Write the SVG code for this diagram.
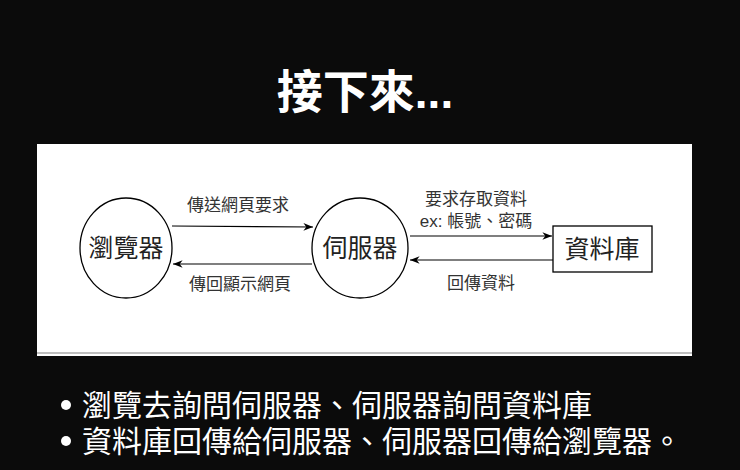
<svg xmlns="http://www.w3.org/2000/svg" width="740" height="470" viewBox="0 0 740 470">
<defs>
<marker id="ah" viewBox="0 0 10 10" refX="10" refY="5" markerWidth="8" markerHeight="8" orient="auto-start-reverse"><path d="M0,1 L10,5 L0,9 L3,5 Z" fill="#000"/></marker>
<style>
.cjk{font-family:"Liberation Sans","Noto Sans CJK TC",sans-serif}
.n{fill:#fff;stroke:#000;stroke-width:1.3}
.lbl{font-size:17px;fill:#333;text-anchor:middle}
.big{font-size:25px;fill:#222;text-anchor:middle}
.c line{stroke:#000;stroke-width:1.2;marker-end:url(#ah)}
.w{fill:#fff;font-size:30px}
</style>
</defs>
<rect width="740" height="470" fill="#0b0b0b"/>
<text class="cjk" x="365" y="108" fill="#fff" font-size="46" font-weight="bold" text-anchor="middle">接下來...</text>
<rect x="37" y="144" width="655" height="212" fill="#fff"/>
<line x1="37" y1="353" x2="692" y2="353" stroke="#aaa" stroke-width="1.5"/>
<g id="browser"><ellipse class="n" cx="126" cy="248" rx="46" ry="50"/><text class="cjk big" x="126" y="257">瀏覽器</text></g>
<g id="server"><ellipse class="n" cx="360" cy="248" rx="48" ry="50"/><text class="cjk big" x="360" y="257">伺服器</text></g>
<g id="database"><rect class="n" x="553" y="226" width="99" height="46"/><text class="cjk big" x="602" y="258">資料庫</text></g>
<g class="c cjk">
<line x1="172" y1="226" x2="313" y2="227"/>
<line x1="312" y1="264" x2="173" y2="264"/>
<line x1="410" y1="236" x2="552" y2="236"/>
<line x1="553" y1="260" x2="410" y2="260"/>
<text class="lbl" x="238" y="211">傳送網頁要求</text>
<text class="lbl" x="240" y="290">傳回顯示網頁</text>
<text class="lbl" x="476" y="205">要求存取資料</text>
<text class="lbl" x="476" y="227">ex: 帳號、密碼</text>
<text class="lbl" x="481" y="289">回傳資料</text>
</g>
<g class="cjk w">
<circle cx="66" cy="405" r="5" fill="#fff"/>
<text class="w" x="82" y="416">瀏覽去詢問伺服器、伺服器詢問資料庫</text>
<circle cx="66" cy="441" r="5" fill="#fff"/>
<text class="w" x="82" y="452">資料庫回傳給伺服器、伺服器回傳給瀏覽器。</text>
</g>
</svg>
